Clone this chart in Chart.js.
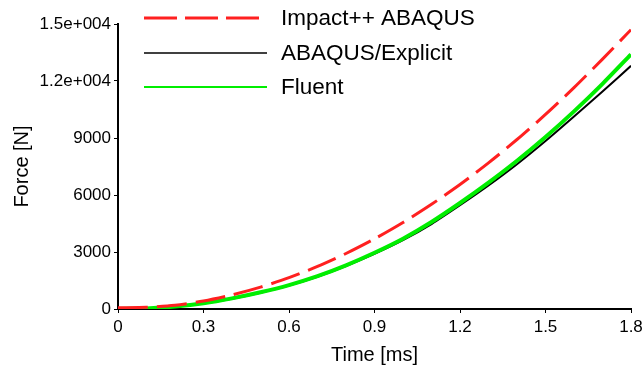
<!DOCTYPE html>
<html>
<head>
<meta charset="utf-8">
<script src="https://cdn.jsdelivr.net/npm/chart.js@4"></script>
<style>
  body { margin: 0; background: #fff; }
  canvas { display: block; }
</style>
</head>
<body>
<canvas id="forceChart" width="644" height="367"></canvas>
<script>
// time axis [ms]
const times = [0, 0.1, 0.2, 0.3, 0.4, 0.5, 0.6, 0.7, 0.8, 0.9, 1.0, 1.1, 1.2, 1.3, 1.4, 1.5, 1.6, 1.7, 1.8];

// force [N]
const impactForce = [60, 90, 200, 420, 740, 1150, 1650, 2240, 2920, 3690, 4550, 5510, 6550, 7690, 8920, 10240, 11650, 13150, 14700];
const explicitForce = [0, 25, 120, 290, 540, 860, 1240, 1700, 2260, 2900, 3620, 4470, 5460, 6500, 7620, 8840, 10130, 11450, 12800];
const fluentForce = [0, 30, 130, 300, 560, 880, 1260, 1730, 2300, 2960, 3700, 4580, 5580, 6650, 7800, 9050, 10400, 11850, 13400];

const seriesNames = ["Impact++ ABAQUS", "ABAQUS/Explicit", "Fluent"];
const xTicks = [0, 0.3, 0.6, 0.9, 1.2, 1.5, 1.8];
const yTicks = [0, 3000, 6000, 9000, 12000, 15000];

function toPoints(values) {
  return values.map((v, i) => ({ x: times[i], y: v }));
}

// legend drawn in the upper left corner of the plot, like the original
const legendStyles = [
  { color: "#ff2020", width: 3, dash: [33, 8] },
  { color: "#000000", width: 1.5, dash: [] },
  { color: "#00ee00", width: 2, dash: [] },
];

const innerLegend = {
  id: "innerLegend",
  afterDraw(chart) {
    const ctx = chart.ctx;
    const rows = [18, 53, 87];
    ctx.save();
    ctx.font = "22.5px 'Liberation Sans', Arial, sans-serif";
    ctx.textBaseline = "middle";
    ctx.fillStyle = "#000";
    seriesNames.forEach((name, i) => {
      const st = legendStyles[i];
      ctx.beginPath();
      ctx.setLineDash(st.dash);
      ctx.lineWidth = st.width;
      ctx.strokeStyle = st.color;
      ctx.moveTo(144, rows[i]);
      ctx.lineTo(267, rows[i]);
      ctx.stroke();
      ctx.setLineDash([]);
      ctx.fillText(name, 281, rows[i] + 1);
    });
    ctx.restore();
  },
};

const ctx = document.getElementById("forceChart").getContext("2d");
new Chart(ctx, {
  type: "line",
  data: {
    datasets: [
      {
        label: seriesNames[0],
        data: toPoints(impactForce),
        borderColor: "#ff2020",
        borderWidth: 3,
        borderDash: [30, 9],
        order: 0,
      },
      {
        label: seriesNames[1],
        data: toPoints(explicitForce),
        borderColor: "#000000",
        borderWidth: 2,
        order: 2,
      },
      {
        label: seriesNames[2],
        data: toPoints(fluentForce),
        borderColor: "#00ee00",
        borderWidth: 4,
        order: 1,
      },
    ],
  },
  options: {
    responsive: false,
    animation: false,
    layout: { padding: { top: 24, right: 13, left: 10, bottom: 0 } },
    elements: {
      point: { radius: 0 },
      line: { tension: 0.25, fill: false },
    },
    plugins: {
      legend: { display: false },
      tooltip: { enabled: false },
    },
    scales: {
      x: {
        type: "linear",
        min: 0,
        max: 1.8,
        afterFit: (scale) => {
          scale.height = 58;
          scale.paddingRight = 0;
        },
        afterBuildTicks: (scale) => { scale.ticks = xTicks.map((v) => ({ value: v })); },
        border: { color: "#000", width: 2 },
        grid: { drawOnChartArea: false, drawTicks: true, tickLength: 4, color: "#000" },
        ticks: {
          color: "#000",
          font: { family: "'Liberation Sans', Arial, sans-serif", size: 17 },
          padding: 4,
          maxRotation: 0,
          callback: (v) => (v === 0 ? "0" : Number(v).toFixed(1)),
        },
        title: {
          display: true,
          text: "Time [ms]",
          color: "#000",
          font: { family: "'Liberation Sans', Arial, sans-serif", size: 20 },
          padding: { top: 1, bottom: 0 },
        },
      },
      y: {
        min: 0,
        max: 15000,
        afterFit: (scale) => { scale.width = 108; },
        afterBuildTicks: (scale) => { scale.ticks = yTicks.map((v) => ({ value: v })); },
        border: { color: "#000", width: 2 },
        grid: { drawOnChartArea: false, drawTicks: true, tickLength: 4, color: "#000" },
        ticks: {
          color: "#000",
          font: { family: "'Liberation Sans', Arial, sans-serif", size: 17 },
          padding: 3,
          callback: (v) => (v >= 10000 ? (v / 10000).toFixed(1) + "e+004" : String(v)),
        },
        title: {
          display: true,
          text: "Force [N]",
          color: "#000",
          font: { family: "'Liberation Sans', Arial, sans-serif", size: 20 },
          padding: { top: 0, bottom: 0 },
        },
      },
    },
  },
  plugins: [innerLegend],
});
</script>
</body>
</html>
